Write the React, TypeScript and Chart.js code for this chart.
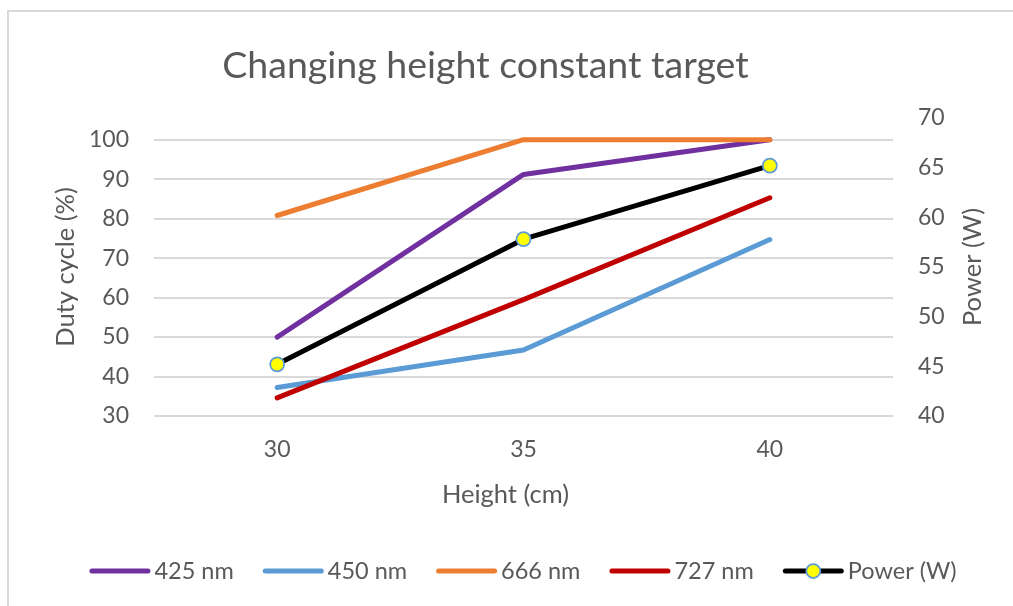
import React, { useEffect, useRef } from 'react';
import { Chart, registerables } from 'chart.js';

Chart.register(...registerables);

// ---- data ----
const categories = ['30', '35', '40'];
const seriesNames = ['425 nm', '450 nm', '666 nm', '727 nm', 'Power (W)'];
const nm425 = [50, 91.2, 100];
const nm450 = [37.2, 46.7, 74.7];
const nm666 = [80.8, 100, 100];
const nm727 = [34.6, 59.5, 85.3];
const powerW = [45.2, 57.8, 65.2];

const titleText = 'Changing height constant target';
const xTitle = 'Height (cm)';
const yLeftTitle = 'Duty cycle (%)';
const yRightTitle = 'Power (W)';

// ---- styles ----
const FONT = 'Lato, "Open Sans", sans-serif';
const GRAY = '#595959';
const GRID = '#d9d9d9';
const colors = ['#7030A0', '#5B9BD5', '#ED7D31', '#C00000', '#000000'];

const overlayPlugin = {
  id: 'overlay',
  afterDraw(chart: any) {
    const ctx: CanvasRenderingContext2D = chart.ctx;
    const area = chart.chartArea;
    ctx.save();
    ctx.fillStyle = GRAY;
    ctx.textAlign = 'center';
    ctx.textBaseline = 'middle';

    // chart title
    ctx.font = `37.5px ${FONT}`;
    ctx.fillText(titleText, 485.5, 66);

    // x axis title
    ctx.font = `25.5px ${FONT}`;
    ctx.fillText(xTitle, 505.5, 495);

    // right axis title (reads bottom to top)
    ctx.save();
    ctx.translate(973, (area.top + area.bottom) / 2);
    ctx.rotate(-Math.PI / 2);
    ctx.fillText(yRightTitle, 0, 0);
    ctx.restore();

    // legend
    ctx.font = `23.5px ${FONT}`;
    const sampleW = 61;
    const gapText = 4;
    const gapItem = 29;
    const widths = seriesNames.map((n) => sampleW + gapText + ctx.measureText(n).width);
    const total = widths.reduce((a, b) => a + b, 0) + gapItem * (seriesNames.length - 1);
    let x = 523 - total / 2;
    const y = 571;
    const ds = chart.data.datasets;
    seriesNames.forEach((name, i) => {
      ctx.beginPath();
      ctx.strokeStyle = ds[i].borderColor;
      ctx.lineWidth = 5;
      ctx.lineCap = 'round';
      ctx.moveTo(x + 2.5, y);
      ctx.lineTo(x + sampleW - 2.5, y);
      ctx.stroke();
      if (ds[i].pointRadius > 0) {
        ctx.beginPath();
        ctx.arc(x + sampleW / 2, y, ds[i].pointRadius, 0, Math.PI * 2);
        ctx.fillStyle = ds[i].pointBackgroundColor;
        ctx.fill();
        ctx.lineWidth = ds[i].pointBorderWidth;
        ctx.strokeStyle = ds[i].pointBorderColor;
        ctx.stroke();
      }
      ctx.fillStyle = GRAY;
      ctx.textAlign = 'left';
      ctx.fillText(name, x + sampleW + gapText, y);
      x += widths[i] + gapItem;
    });
    ctx.restore();
  },
};

function lineDs(label: string, data: number[], color: string, order: number) {
  return {
    label,
    data,
    borderColor: color,
    backgroundColor: color,
    borderWidth: 5,
    borderCapStyle: 'round' as const,
    borderJoinStyle: 'round' as const,
    pointRadius: 0,
    pointHoverRadius: 0,
    tension: 0,
    yAxisID: 'y',
    order,
  };
}

export default function App() {
  const ref = useRef<HTMLCanvasElement>(null);

  useEffect(() => {
    if (!ref.current) return;
    const chart = new Chart(ref.current, {
      type: 'line',
      data: {
        labels: categories,
        datasets: [
          lineDs(seriesNames[0], nm425, colors[0], 4),
          lineDs(seriesNames[1], nm450, colors[1], 3),
          lineDs(seriesNames[2], nm666, colors[2], 2),
          lineDs(seriesNames[3], nm727, colors[3], 1),
          {
            label: seriesNames[4],
            data: powerW,
            borderColor: colors[4],
            backgroundColor: colors[4],
            borderWidth: 5,
            borderCapStyle: 'round',
            borderJoinStyle: 'round',
            pointRadius: 7,
            pointHoverRadius: 7,
            pointBackgroundColor: '#FFFF00',
            pointBorderColor: '#5B9BD5',
            pointBorderWidth: 1.75,
            tension: 0,
            yAxisID: 'y1',
            order: 0,
          } as any,
        ],
      },
      options: {
        animation: false,
        responsive: false,
        maintainAspectRatio: false,
        events: [],
        layout: { padding: { top: 118, left: 0, right: 0, bottom: 90 } },
        plugins: {
          legend: { display: false },
          title: { display: false },
          tooltip: { enabled: false },
        },
        scales: {
          x: {
            type: 'category',
            offset: true,
            grid: { display: false, drawTicks: false },
            border: { display: false },
            ticks: { color: GRAY, font: { family: FONT, size: 23 }, padding: 20 },
            afterFit: (s: any) => { s.height = 100; },
          },
          y: {
            position: 'left',
            min: 30,
            max: 105.5,
            grid: { color: GRID, lineWidth: 2, drawTicks: false },
            border: { display: false },
            ticks: {
              stepSize: 10,
              includeBounds: false,
              color: GRAY,
              font: { family: FONT, size: 23 },
              padding: 25,
            },
            title: {
              display: true,
              text: yLeftTitle,
              color: GRAY,
              font: { family: FONT, size: 25.5 },
              padding: { top: 50, bottom: 0 },
            },
            afterFit: (s: any) => { s.width = 154; },
          },
          y1: {
            position: 'right',
            min: 40,
            max: 70,
            grid: { display: false, drawTicks: false },
            border: { display: false },
            ticks: {
              stepSize: 5,
              color: GRAY,
              font: { family: FONT, size: 23 },
              padding: 25,
            },
            afterFit: (s: any) => { s.width = 120; },
          },
        },
      } as any,
      plugins: [overlayPlugin],
    });
    return () => chart.destroy();
  }, []);

  return (
    <div
      style={{
        position: 'fixed',
        left: 0,
        top: 0,
        width: 1013,
        height: 606,
        overflow: 'hidden',
        background: '#ffffff',
      }}
    >
      <div
        style={{
          position: 'absolute',
          left: 7,
          top: 10,
          width: 1100,
          height: 700,
          borderLeft: '2px solid #d9d9d9',
          borderTop: '2px solid #d9d9d9',
        }}
      />
      <canvas
        ref={ref}
        width={1013}
        height={606}
        style={{ position: 'absolute', left: 0, top: 0, width: 1013, height: 606 }}
      />
    </div>
  );
}
